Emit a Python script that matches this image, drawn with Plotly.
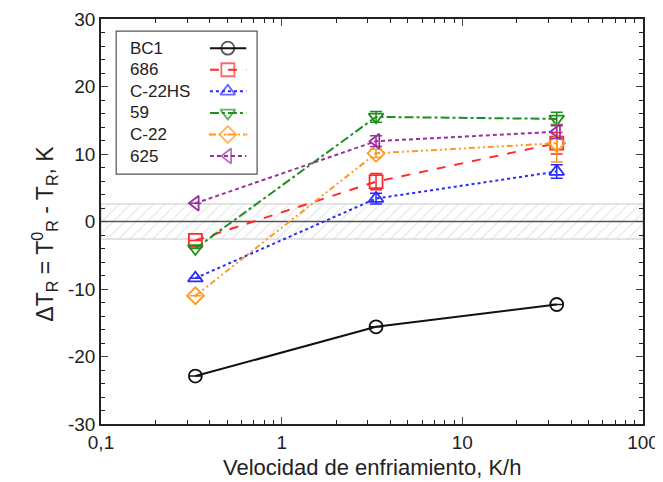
import plotly.graph_objects as go

rates = [0.333, 3.33, 33.3]
series_names = ["BC1", "686", "C-22HS", "59", "C-22", "625"]
bc1 = [-22.9, -15.6, -12.3]
a686 = [-2.8, 5.9, 11.6]
c22hs = [-8.4, 3.4, 7.4]
a59 = [-4.0, 15.5, 15.2]
c22 = [-11.0, 10.1, 11.6]
a625 = [2.7, 11.9, 13.3]
err_bc1 = [0, 0, 0]
err_686 = [0, 1.2, 1.6]
err_c22hs = [0, 0.8, 1.0]
err_59 = [0, 0.8, 1.0]
err_c22 = [0, 0.6, 2.8]
err_625 = [0, 0.8, 1.0]
band = 2.6
x_ticks = [0.1, 1, 10, 100]
x_ticktext = ["0,1", "1", "10", "100"]
y_ticks = [-30, -20, -10, 0, 10, 20, 30]
y_ticktext = ["-30", "-20", "-10", "0", "10", "20", "30"]
x_title = "Velocidad de enfriamiento, K/h"
y_title = "ΔT<sub>R</sub> = T<sup>0</sup><sub>R</sub> - T<sub>R</sub>, K"

values = [bc1, a686, c22hs, a59, c22, a625]
errors = [err_bc1, err_686, err_c22hs, err_59, err_c22, err_625]
colors = ["#111111", "#ff2a2a", "#2a2aff", "#1f8f1f", "#ff9a1f", "#9a2fa0"]
dashes = ["solid", "dash", "dot", "dashdot", "6px,3px,2px,3px,2px,3px", "4px,3px"]
symbols = ["circle-open", "square-open", "triangle-up-open", "triangle-down-open",
           "diamond-open-dot", "triangle-left-open"]

FONT = "Liberation Sans, Arial"

fig = go.Figure()

# hatched band around zero
fig.add_trace(go.Scatter(
    x=[0.1, 100, 100, 0.1, 0.1], y=[band, band, -band, -band, band],
    mode="lines", fill="toself", fillcolor="rgba(255,255,255,0)",
    fillpattern=dict(shape="/", fgcolor="#cfcfcf", bgcolor="white", size=8, solidity=0.15),
    line=dict(color="#c8c8c8", width=1), showlegend=False, hoverinfo="skip"))
fig.add_trace(go.Scatter(x=[0.1, 100], y=[0, 0], mode="lines",
                         line=dict(color="#555555", width=1.5), showlegend=False, hoverinfo="skip"))

for name, v, e, c, d, s in zip(series_names, values, errors, colors, dashes, symbols):
    fig.add_trace(go.Scatter(
        x=rates, y=v, mode="lines+markers", name=name,
        line=dict(color=c, width=2, dash=d),
        marker=dict(symbol=s, size=13, color=c, line=dict(width=1.8, color=c)),
        error_y=dict(type="data", array=e, visible=True, color=c, thickness=1.5, width=6),
        showlegend=False))

# custom legend (text left, sample right) in a separate overlay axis
for i, (name, c, d, s) in enumerate(zip(series_names, colors, dashes, symbols)):
    yy = 0.928 - i * 0.0533
    fig.add_trace(go.Scatter(
        x=[0.201, 0.234, 0.268], y=[yy, yy, yy], xaxis="x2", yaxis="y2",
        mode="lines+markers", line=dict(color=c, width=2, dash=d),
        marker=dict(symbol=s, size=[0, 13, 0], color=c, line=dict(width=1.8, color=c)),
        showlegend=False, hoverinfo="skip"))
    fig.add_annotation(x=0.050, y=yy, xref="x2", yref="y2", text=name, showarrow=False,
                       xanchor="left", yanchor="middle",
                       font=dict(family=FONT, size=17, color="#222"))

fig.add_shape(type="rect", xref="x2", yref="y2", x0=0.028, x1=0.288, y0=0.617, y1=0.970,
              line=dict(color="#555", width=1.2), fillcolor="rgba(0,0,0,0)", layer="below")

# axis titles as annotations for exact placement
fig.add_annotation(x=0.5, y=0, xref="paper", yref="paper", yshift=-43, text=x_title,
                   showarrow=False, xanchor="center", yanchor="middle",
                   font=dict(family=FONT, size=22, color="#222"))
fig.add_annotation(x=0, y=0.47, xref="paper", yref="paper", xshift=-57, text=y_title,
                   showarrow=False, xanchor="center", yanchor="middle", textangle=-90,
                   font=dict(family=FONT, size=23, color="#222"))

# margins compensate for the 8px default body margin of the page
fig.update_layout(
    width=663, height=482,
    margin=dict(l=93, r=28, t=11, b=66, autoexpand=False),
    paper_bgcolor="white", plot_bgcolor="white",
    font=dict(family=FONT, size=19, color="#222"),
    xaxis=dict(type="log", range=[-1, 2], tickvals=x_ticks, ticktext=x_ticktext,
               automargin=False, ticklabeloverflow="allow",
               ticks="inside", ticklen=7, tickwidth=1.2, showline=True, linecolor="#222",
               linewidth=1.5, mirror="allticks", showgrid=False, zeroline=False,
               minor=dict(tickvals=[k * m for m in (0.1, 1, 10) for k in range(2, 10)],
                          ticks="inside", ticklen=4, tickcolor="#222", showgrid=False),
               tickfont=dict(size=19)),
    yaxis=dict(range=[-30, 30], tickvals=y_ticks, ticktext=y_ticktext,
               automargin=False, ticklabeloverflow="allow",
               ticks="inside", ticklen=7, tickwidth=1.2, showline=True, linecolor="#222",
               linewidth=1.5, mirror="allticks", showgrid=False, zeroline=False,
               minor=dict(dtick=2, ticks="inside", ticklen=4, tickcolor="#222", showgrid=False),
               tickfont=dict(size=19)),
    xaxis2=dict(range=[0, 1], domain=[0, 1], overlaying="x", visible=False, fixedrange=True),
    yaxis2=dict(range=[0, 1], domain=[0, 1], overlaying="y", visible=False, fixedrange=True,
                anchor="x2"),
)
fig.update_layout(xaxis2_anchor="y2")

fig.write_html("out.html")
